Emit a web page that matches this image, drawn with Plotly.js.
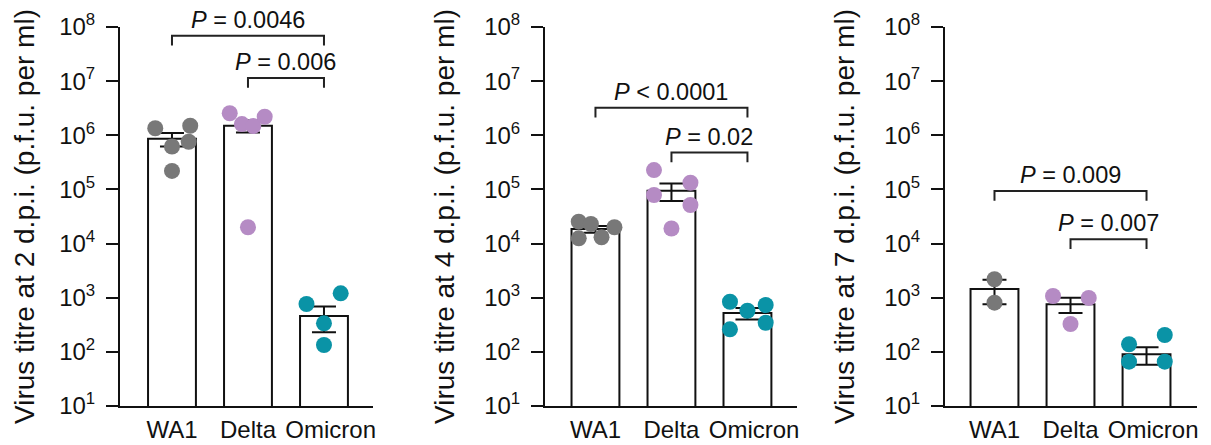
<!DOCTYPE html>
<html>
<head>
<meta charset="utf-8">
<script src="https://cdn.plot.ly/plotly-3.0.1.min.js"></script>
<style>
  html, body { margin: 0; padding: 0; background: #ffffff; }
  #chart { width: 1211px; height: 445px; }
</style>
</head>
<body>
<div id="chart"></div>
<script>
// Virus titres in the lungs at 2, 4 and 7 days post infection
const categories = ['WA1', 'Delta', 'Omicron'];
const tickExponents = [1, 2, 3, 4, 5, 6, 7, 8];
const dayLabels = ['2', '4', '7'];

// Individual animals (p.f.u. per ml)
const day2WA1 = [1.35e6, 1.5e6, 6.2e5, 7.6e5, 2.2e5];
const day2Delta = [2.55e6, 1.61e6, 1.48e6, 2.2e6, 2.0e4];
const day2Omicron = [766, 1205, 337, 134];
const day4WA1 = [2.54e4, 2.3e4, 2.0e4, 1.25e4, 1.31e4];
const day4Delta = [2.28e5, 1.33e5, 7.9e4, 5.15e4, 1.9e4];
const day4Omicron = [843, 733, 575, 345, 261];
const day7WA1 = [2190, 810];
const day7Delta = [1075, 990, 327];
const day7Omicron = [138, 205, 66, 66];

// Group means and s.e.m. (WA1, Delta, Omicron)
const day2Means = [8.6e5, 1.5e6, 460];
const day2Sem = [2.4e5, 3.8e5, 230];
const day4Means = [1.85e4, 9.5e4, 520];
const day4Sem = [2.6e3, 3.4e4, 125];
const day7Means = [1450, 760, 90];
const day7Sem = [690, 240, 32];

// Pairwise comparisons: [from group, to group]
const comparisonPairs = [[0, 2], [1, 2]];
const day2PValues = ['<i>P</i> = 0.0046', '<i>P</i> = 0.006'];
const day4PValues = ['<i>P</i> &lt; 0.0001', '<i>P</i> = 0.02'];
const day7PValues = ['<i>P</i> = 0.009', '<i>P</i> = 0.007'];

// Horizontal spread of the dots within each bar (category units)
const day2Spread = [[-0.22, 0.24, 0, 0.22, 0], [-0.24, -0.08, 0.07, 0.22, 0], [-0.23, 0.22, 0, 0]];
const day4Spread = [[-0.22, -0.06, 0.25, -0.22, 0.08], [-0.23, 0.25, -0.23, 0.25, 0], [-0.23, 0.24, 0, 0.24, -0.23]];
const day7Spread = [[0, 0], [-0.23, 0.24, 0], [-0.23, 0.24, -0.23, 0.24]];
// Bracket heights (log10 units)
const day2Brackets = [7.84, 7.06];
const day4Brackets = [6.51, 5.68];
const day7Brackets = [4.97, 4.08];

const FONT = 'Liberation Sans, Arial, Helvetica, sans-serif';
const dotColors = ['#787878', '#b58bc4', '#0a93a6'];
const legDrop = 0.18;
const NBSP = '\u00a0';

const panels = [
  { day: dayLabels[0], groups: [day2WA1, day2Delta, day2Omicron], means: day2Means, sem: day2Sem,
    spread: day2Spread, pvals: day2PValues, brackets: day2Brackets,
    domain: [120 / 1211, 373 / 1211], range: [-0.684, 2.645], standoff: 16 },
  { day: dayLabels[1], groups: [day4WA1, day4Delta, day4Omicron], means: day4Means, sem: day4Sem,
    spread: day4Spread, pvals: day4PValues, brackets: day4Brackets,
    domain: [545 / 1211, 797 / 1211], range: [-0.664, 2.652], standoff: 21 },
  { day: dayLabels[2], groups: [day7WA1, day7Delta, day7Omicron], means: day7Means, sem: day7Sem,
    spread: day7Spread, pvals: day7PValues, brackets: day7Brackets,
    domain: [945 / 1211, 1197 / 1211], range: [-0.651, 2.664], standoff: 21 }
];

// keep the last category label clear of its neighbour
const tickLabels = categories.map((c, i) => (i === categories.length - 1 ? NBSP + NBSP + c : c));

const traces = [];
const annotations = [];
const layout = {
  width: 1211,
  height: 445,
  margin: { l: 0, r: 0, t: 0, b: 0 },
  paper_bgcolor: '#ffffff',
  plot_bgcolor: 'rgba(0,0,0,0)',
  showlegend: false,
  hovermode: false,
  font: { family: FONT, color: '#111111', size: 24 }
};

panels.forEach((p, k) => {
  const sfx = k === 0 ? '' : String(k + 1);
  const xa = 'x' + sfx, ya = 'y' + sfx;
  const catIdx = categories.map((_, i) => i);

  // bars with s.e.m. whiskers
  traces.push({
    type: 'bar', x: catIdx, y: p.means, width: 0.63,
    xaxis: xa, yaxis: ya,
    marker: { color: '#ffffff', line: { color: '#111111', width: 2 } },
    error_y: { type: 'data', array: p.sem, symmetric: true, color: '#111111', thickness: 2, width: 12 }
  });

  // individual animals
  p.groups.forEach((vals, g) => {
    traces.push({
      type: 'scatter', mode: 'markers',
      x: vals.map((_, j) => g + p.spread[g][j]), y: vals,
      xaxis: xa, yaxis: ya, cliponaxis: false,
      marker: { color: dotColors[g], size: 16, line: { width: 0 } }
    });
  });

  // comparison brackets and P values
  comparisonPairs.forEach((pair, b) => {
    const top = p.brackets[b];
    const x0 = pair[0], x1 = pair[1];
    traces.push({
      type: 'scatter', mode: 'lines',
      x: [x0, x0, x1, x1],
      y: [Math.pow(10, top - legDrop), Math.pow(10, top), Math.pow(10, top), Math.pow(10, top - legDrop)],
      xaxis: xa, yaxis: ya,
      line: { color: '#222222', width: 2 }
    });
    annotations.push({
      xref: xa, yref: ya, x: (x0 + x1) / 2, y: top,
      text: p.pvals[b], showarrow: false,
      xanchor: 'center', yanchor: 'middle', yshift: 16,
      font: { family: FONT, size: 23.5, color: '#111111' }
    });
  });

  layout['xaxis' + sfx] = {
    domain: p.domain, range: p.range, anchor: ya,
    tickmode: 'array', tickvals: catIdx, ticktext: tickLabels,
    ticks: '', ticklabelstandoff: 1, tickangle: 0,
    showline: true, linewidth: 2, linecolor: '#111111',
    showgrid: false, zeroline: false, fixedrange: true,
    tickfont: { family: FONT, size: 24, color: '#111111' }
  };
  layout['yaxis' + sfx] = {
    domain: [39 / 445, 418 / 445], type: 'log', range: [1, 8], anchor: xa,
    tickmode: 'array',
    tickvals: tickExponents.map(e => Math.pow(10, e)),
    ticktext: tickExponents.map(e => '10<sup>' + e + '</sup>'),
    ticks: 'outside', ticklen: 12, tickwidth: 2, tickcolor: '#111111',
    ticklabelstandoff: 6,
    showline: true, linewidth: 2, linecolor: '#111111',
    showgrid: false, zeroline: false, fixedrange: true,
    tickfont: { family: FONT, size: 24, color: '#111111' },
    title: {
      // trailing spaces sit the rotated title a little lower along the axis
      text: 'Virus titre at ' + p.day + ' d.p.i. (p.f.u. per ml)' + NBSP + NBSP,
      font: { family: FONT, size: 28, color: '#111111' },
      standoff: p.standoff
    }
  };
});

layout.annotations = annotations;

Plotly.newPlot('chart', traces, layout, { displayModeBar: false, staticPlot: true });
</script>
</body>
</html>
